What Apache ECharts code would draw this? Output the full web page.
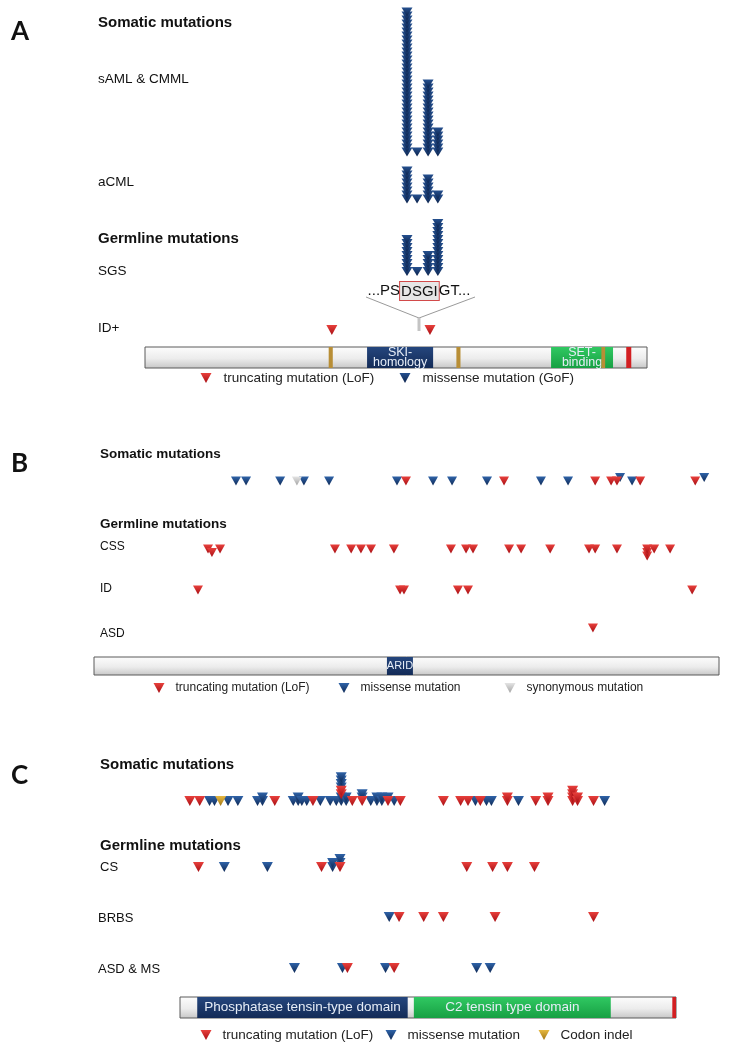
<!DOCTYPE html>
<html>
<head>
<meta charset="utf-8">
<script src="https://cdn.jsdelivr.net/npm/echarts@6/dist/echarts.min.js"></script>
<style>
  html, body { margin: 0; background: #fff; }
  #chart { width: 730px; height: 1049px; }
</style>
</head>
<body>
<div id="chart"></div>
<script>
// protein lengths (aa)
const lenA = 1596, lenB = 2236, lenC = 403;

// ---- A: SETBP1 ----
const hotspotPos = [833, 865, 900, 931];   // D868 S869 G870 I871 columns (schematic)
const samlCounts = [36, 1, 18, 6];
const acmlCounts = [8, 1, 6, 2];
const sgsCounts = [9, 1, 5, 13];
const idPlusTrunc = [[594, 0], [906, 0]];
const domainsA = [[0, 1596, 'base', ''], [706, 916, 'navy', 'SKI-\nhomology'], [584, 597, 'hook', ''],
  [990, 1003, 'hook', ''], [1291, 1488, 'green', 'SET-\nbinding'], [1451, 1463, 'hook', ''], [1530, 1546, 'stop', '']];

// ---- B: ARID1B  [position, stack level] ----
const bSomMis = [[508, 0], [544, 0], [666, 0], [751, 0], [841, 0], [1084, 0], [1213, 0], [1281, 0], [1406, 0],
  [1599, 0], [1696, 0], [1925, 0], [1882, 1], [2183, 1]];
const bSomTrunc = [[1116, 0], [1467, 0], [1793, 0], [1850, 0], [1871, 0], [1954, 0], [2151, 0]];
const bSomSyn = [[726, 0]];
const bCssTrunc = [[408, 0], [422, -1], [451, 0], [862, 0], [920, 0], [955, 0], [991, 0], [1073, 0], [1277, 0],
  [1331, 0], [1356, 0], [1485, 0], [1528, 0], [1632, 0], [1771, 0], [1793, 0], [1871, 0],
  [1979, -2], [1979, -1], [1979, 0], [2004, 0], [2061, 0]];
const bIdTrunc = [[372, 0], [1095, 0], [1109, 0], [1302, 0], [1338, 0], [2140, 0]];
const bAsdTrunc = [[1785, 0]];
const domainsB = [[0, 2236, 'base', ''], [1048, 1141, 'navy', 'ARID']];

// ---- C: PTEN ----
const cSomTrunc = [[8, 0], [16, 0], [77, 0], [108, 0], [131, 2], [131, 3], [140, 0], [148, 0], [169, 0], [179, 0],
  [214, 0], [228, 0], [234, 0], [244, 0], [266, 0], [266, 1], [289, 0], [299, 0], [299, 1],
  [319, 0], [319, 1], [319, 2], [319, 3], [323, 0], [323, 1], [336, 0]];
const cSomMis = [[24, 0], [28, 0], [39, 0], [47, 0], [63, 0], [67, 0], [67, 1], [92, 0], [96, 0], [96, 1], [99, 0],
  [103, 0], [114, 0], [122, 0], [127, 0], [131, 0], [131, 1], [131, 4], [131, 5], [131, 6], [131, 7],
  [135, 0], [135, 1], [148, 1], [148, 2], [155, 0], [160, 0], [160, 1], [164, 0], [164, 1], [169, 1],
  [174, 0], [240, 0], [249, 0], [253, 0], [275, 0], [345, 0]];
const cSomIndel = [[33, 0]];
const cCsTrunc = [[15, 0], [115, 0], [130, 0], [233, 0], [254, 0], [266, 0], [288, 0]];
const cCsMis = [[36, 0], [71, 0], [124, 0], [124, 1], [130, 1], [130, 2]];
const cBrbsTrunc = [[178, 0], [198, 0], [214, 0], [256, 0], [336, 0]];
const cBrbsMis = [[170, 0]];
const cAsdTrunc = [[136, 0], [174, 0]];
const cAsdMis = [[93, 0], [132, 0], [167, 0], [241, 0], [252, 0]];
const domainsC = [[0, 403, 'base', ''], [14, 185, 'navy', 'Phosphatase tensin-type domain'],
  [190, 350, 'green', 'C2 tensin type domain'], [400, 403, 'stop', '']];

// legend names
const nTrunc = 'truncating mutation (LoF)';
const nGoF = 'missense mutation (GoF)';
const nMis = 'missense mutation';
const nSyn = 'synonymous mutation';
const nIndel = 'Codon indel';

const FONT = "'Liberation Sans', Arial, sans-serif";
const NARROW = "'Liberation Sans Narrow', 'Arial Narrow', 'Liberation Sans', sans-serif";
const TRI = 'path://M0,0L10,0L5,9Z';
const grad = (a, b) => new echarts.graphic.LinearGradient(0, 0, 0, 1, [{ offset: 0, color: a }, { offset: 1, color: b }]);
const RED = grad('#e8403c', '#a80f14');
const BLUE = grad('#2f63a8', '#0f2a57');
const NAVY = grad('#25508f', '#0c234c');
const GRAY = grad('#e4e4e4', '#a4a4a4');
const GOLD = grad('#e6b840', '#a27614');

const domainStyle = {
  base: { fill: new echarts.graphic.LinearGradient(0, 0, 0, 1, [{ offset: 0, color: '#fdfdfd' }, { offset: 0.55, color: '#ececec' }, { offset: 1, color: '#c6c6c6' }]), stroke: '#5a5a5a', lw: 1 },
  navy: { fill: grad('#25467d', '#132b57') },
  green: { fill: grad('#30c862', '#17a043') },
  hook: { fill: '#b88e36' },
  stop: { fill: '#d21f22' }
};

const grids = [], xAxes = [], yAxes = [], series = [];
function addGrid(p, top, height, ymin, ymax) {
  grids.push({ left: p.left, width: p.width, top: top, height: height });
  const i = grids.length - 1;
  xAxes.push({ type: 'value', gridIndex: i, min: 0, max: p.len, show: false });
  yAxes.push({ type: 'value', gridIndex: i, min: ymin, max: ymax, show: false });
  return i;
}
function addTrack(p, centerY, step, size, sets) {
  let maxL = 0;
  sets.forEach(s => s.data.forEach(d => { maxL = Math.max(maxL, d[1]); }));
  const up = maxL + 3, down = 5;
  const gi = addGrid(p, centerY - up * step, (up + down) * step, -down, up);
  sets.forEach(s => series.push({
    type: 'scatter', name: s.name, xAxisIndex: gi, yAxisIndex: gi, data: s.data,
    symbol: TRI, symbolSize: size, itemStyle: { color: s.color, opacity: 1 }, clip: false, silent: true, animation: false
  }));
}
function towers(counts) {
  const out = [];
  counts.forEach((c, i) => { for (let k = 0; k < c; k++) out.push([hotspotPos[i], k]); });
  return out;
}
function addProtein(p, domains, font, size, lh, dy) {
  const gi = addGrid(p, p.barTop, p.barH, 0, 1);
  series.push({
    type: 'custom', xAxisIndex: gi, yAxisIndex: gi, silent: true, animation: false,
    data: domains.map(d => [d[0], d[1]]), encode: { x: [0, 1] },
    renderItem: (params, api) => {
      const d = domains[params.dataIndex];
      const a = api.coord([d[0], 1]), b = api.coord([d[1], 0]);
      const st = domainStyle[d[2]];
      const kids = [{
        type: 'rect', shape: { x: a[0], y: a[1], width: Math.max(b[0] - a[0], 3), height: b[1] - a[1] },
        style: { fill: st.fill, stroke: st.stroke || null, lineWidth: st.lw || 0 }
      }];
      if (d[3]) kids.push({
        type: 'text', style: {
          text: d[3], x: (a[0] + b[0]) / 2, y: (a[1] + b[1]) / 2 + dy, align: 'center', verticalAlign: 'middle',
          fill: '#e6edf7', fontFamily: font, fontSize: size, lineHeight: lh
        }
      });
      return { type: 'group', children: kids };
    }
  });
}

// panel geometry
const pA = { left: 145, width: 502, len: lenA, barTop: 347, barH: 21 };
const pB = { left: 94, width: 625, len: lenB, barTop: 657, barH: 18 };
const pC = { left: 180, width: 496, len: lenC, barTop: 997, barH: 21 };

addProtein(pA, domainsA, NARROW, 12.5, 10, 0);
addTrack(pA, 152, 4, [11, 9], [{ name: nGoF, data: towers(samlCounts), color: NAVY }]);
addTrack(pA, 199, 4, [11, 9], [{ name: nGoF, data: towers(acmlCounts), color: NAVY }]);
addTrack(pA, 271.5, 4, [11, 9], [{ name: nGoF, data: towers(sgsCounts), color: NAVY }]);
addTrack(pA, 330, 4, [11, 10], [{ name: nTrunc, data: idPlusTrunc, color: RED }]);

addProtein(pB, domainsB, NARROW, 11, 12, 0);
addTrack(pB, 481, 3.5, [10, 9], [
  { name: nMis, data: bSomMis, color: BLUE }, { name: nTrunc, data: bSomTrunc, color: RED }, { name: nSyn, data: bSomSyn, color: GRAY }]);
addTrack(pB, 549, 3.5, [10, 9], [{ name: nTrunc, data: bCssTrunc, color: RED }]);
addTrack(pB, 590, 3.5, [10, 9], [{ name: nTrunc, data: bIdTrunc, color: RED }]);
addTrack(pB, 628, 3.5, [10, 9], [{ name: nTrunc, data: bAsdTrunc, color: RED }]);

addProtein(pC, domainsC, NARROW, 13.5, 14, 0);
addTrack(pC, 801, 3.4, [11, 10], [
  { name: nMis, data: cSomMis, color: BLUE }, { name: nTrunc, data: cSomTrunc, color: RED }, { name: nIndel, data: cSomIndel, color: GOLD }]);
addTrack(pC, 867, 4, [11, 10], [{ name: nMis, data: cCsMis, color: BLUE }, { name: nTrunc, data: cCsTrunc, color: RED }]);
addTrack(pC, 917, 4, [11, 10], [{ name: nMis, data: cBrbsMis, color: BLUE }, { name: nTrunc, data: cBrbsTrunc, color: RED }]);
addTrack(pC, 968, 4, [11, 10], [{ name: nMis, data: cAsdMis, color: BLUE }, { name: nTrunc, data: cAsdTrunc, color: RED }]);

function leg(name, left, cy, size, pad) {
  return {
    data: [name], left: left, top: cy - 8, padding: 0, itemWidth: 11, itemHeight: 10, selectedMode: false, icon: TRI,
    textStyle: { fontSize: size, fontFamily: FONT, color: '#222', padding: [0, 0, 0, pad], lineHeight: 16 }
  };
}
const legends = [
  leg(nTrunc, 200.5, 378, 13.5, 7), leg(nGoF, 399.5, 378, 13.5, 7),
  leg(nTrunc, 153.5, 688, 12, 6), leg(nMis, 338.5, 688, 12, 6), leg(nSyn, 504.5, 688, 12, 6),
  leg(nTrunc, 200.5, 1035, 13.5, 6), leg(nMis, 385.5, 1035, 13.5, 6), leg(nIndel, 538.5, 1035, 13.5, 6)
];

function txt(text, x, y, size, bold, family) {
  return {
    type: 'text', x: x, y: y, silent: true,
    style: { text: text, fontSize: size, fontWeight: bold ? 'bold' : 'normal', fontFamily: family || FONT, fill: '#111', verticalAlign: 'middle' }
  };
}
const LET = "Lato, 'Open Sans', sans-serif";
const graphic = [
  txt('A', 11, 32, 26, true, LET),
  txt('Somatic mutations', 98, 23, 15, true),
  txt('sAML & CMML', 98, 79.5, 13.5),
  txt('aCML', 98, 182, 13.5),
  txt('Germline mutations', 98, 239, 15, true),
  txt('SGS', 98, 271, 13.5),
  txt('ID+', 98, 328, 13.5),
  { type: 'polyline', silent: true, shape: { points: [[366, 297], [419, 318], [475, 297]] }, style: { stroke: '#9a9a9a', lineWidth: 1, fill: null } },
  { type: 'line', silent: true, shape: { x1: 419, y1: 318, x2: 419, y2: 331 }, style: { stroke: '#c4c4c4', lineWidth: 3 } },
  {
    type: 'text', x: 419, y: 291, silent: true,
    style: {
      text: '{n|...PS}{b|DSGI}{n|GT...}', align: 'center', verticalAlign: 'middle',
      rich: {
        n: { fontSize: 15, fontFamily: FONT, fill: '#111' },
        b: { fontSize: 15, fontFamily: FONT, fill: '#111', backgroundColor: '#e6e6e6', borderColor: '#d24a4a', borderWidth: 1, padding: [2, 1, 1, 1] }
      }
    }
  },
  txt('B', 11, 464, 26, true, LET),
  txt('Somatic mutations', 100, 454, 13.5, true),
  txt('Germline mutations', 100, 524, 13.5, true),
  txt('CSS', 100, 547, 12),
  txt('ID', 100, 589, 12),
  txt('ASD', 100, 634, 12),
  txt('C', 11, 776, 26, true, LET),
  txt('Somatic mutations', 100, 765, 15, true),
  txt('Germline mutations', 100, 846, 15, true),
  txt('CS', 100, 867, 13),
  txt('BRBS', 98, 918, 13),
  txt('ASD & MS', 98, 969, 13)
];

const chart = echarts.init(document.getElementById('chart'), null, { renderer: 'canvas' });
chart.setOption({
  backgroundColor: '#ffffff',
  animation: false,
  grid: grids,
  xAxis: xAxes,
  yAxis: yAxes,
  legend: legends,
  graphic: graphic,
  series: series
});
</script>
</body>
</html>
